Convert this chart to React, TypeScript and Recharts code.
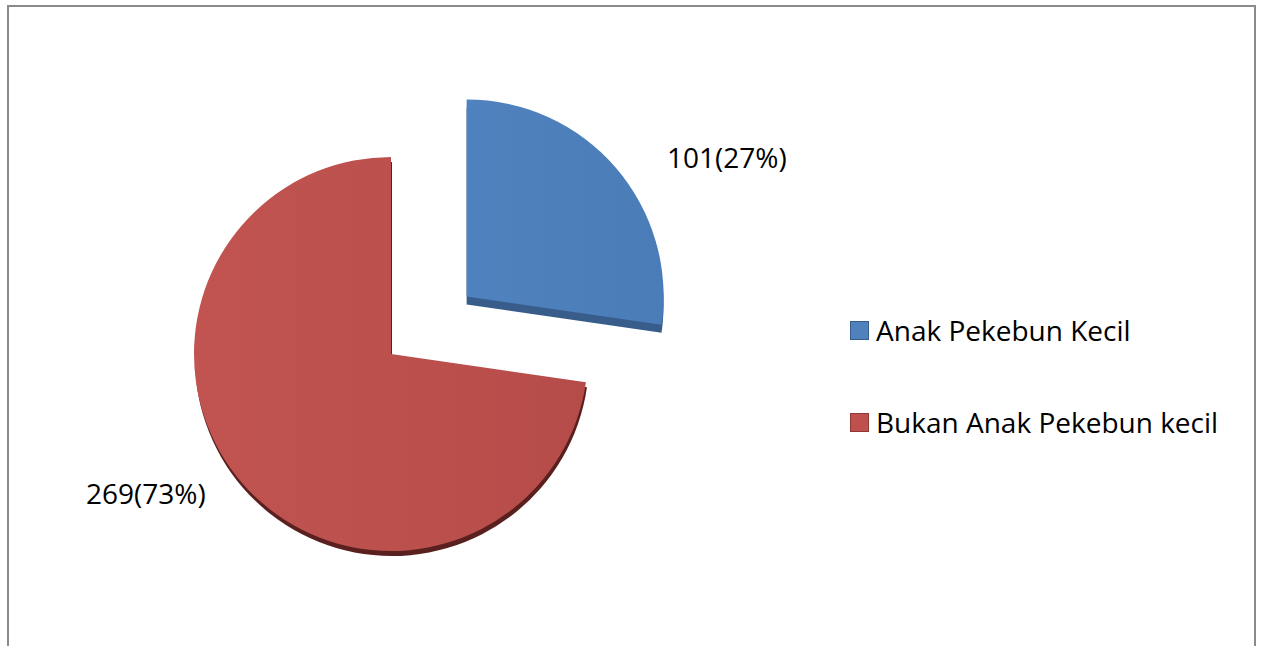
import { Cell, Legend, Pie, PieChart } from "recharts";

const categories = ["Anak Pekebun Kecil", "Bukan Anak Pekebun kecil"];
const counts = [101, 269];
const percents = [27, 73];
const faceColors = ["url(#faceBlue)", "url(#faceRed)"];
const sideColors = ["#385d8a", "#5a201f"];
const legendColors = ["#4f81bd", "#c0504d"];
const legendBorders = ["#385d8a", "#8c3836"];

const data = categories.map((name, i) => ({ name, value: counts[i], pct: percents[i] }));

// pie geometry
const CX = 391;
const CY = 354;
const R = 197;
const EXPLODE = 100;
const TILT = 0.88;
const total = counts.reduce((a, b) => a + b, 0);
const blueMid = ((90 - (180 * counts[0]) / total) * Math.PI) / 180;
const bx = CX + EXPLODE * Math.cos(blueMid);
const by = CY - EXPLODE * TILT * Math.sin(blueMid);

const FONT = "'Open Sans', sans-serif";
const RAD = Math.PI / 180;

const labelFor = (idx: number) => (props: any) => {
  if (props.index !== idx) return null;
  const a = (props.midAngle - 5) * RAD;
  const r = props.outerRadius * 1.208;
  const right = Math.cos(a) >= 0;
  const x = props.cx + r * Math.cos(a) + 7.5;
  const y = props.cy - r * Math.sin(a);
  return (
    <text
      x={x}
      y={y}
      textAnchor={right ? "start" : "end"}
      dominantBaseline="central"
      fill="#000"
      fontSize={28}
      fontFamily={FONT}
    >
      {`${counts[idx]}(${percents[idx]}%)`}
    </text>
  );
};

function PieLegend() {
  return (
    <div style={{ fontFamily: FONT, fontSize: 28, color: "#000" }}>
      {categories.map((c, i) => (
        <div key={c} style={{ display: "flex", alignItems: "center", height: 30, marginBottom: i === 0 ? 62 : 0 }}>
          <span
            style={{
              display: "inline-block",
              width: 17,
              height: 17,
              background: legendColors[i],
              border: `1px solid ${legendBorders[i]}`,
              marginRight: 7,
            }}
          />
          <span>{c}</span>
        </div>
      ))}
    </div>
  );
}

function layer(key: string, cx: number, cy: number, show: number, fills: string[], label?: any) {
  return (
    <Pie
      key={key}
      data={data}
      dataKey="value"
      nameKey="name"
      cx={cx}
      cy={cy}
      outerRadius={R}
      startAngle={90}
      endAngle={-270}
      stroke="none"
      isAnimationActive={false}
      label={label ?? false}
      labelLine={false}
      legendType="none"
    >
      {data.map((d, i) => (
        <Cell key={d.name} fill={i === show ? fills[i] : "transparent"} stroke="none" />
      ))}
    </Pie>
  );
}

export default function App() {
  return (
    <div style={{ position: "absolute", left: 0, top: 0, width: 1261, height: 646, overflow: "hidden", background: "#fff" }}>
      <div
        style={{
          position: "absolute",
          left: 7,
          top: 5,
          width: 1245,
          height: 700,
          border: "2px solid #8a8a8a",
        }}
      />
      <div style={{ position: "absolute", left: 0, top: 0 }}>
        <PieChart width={1261} height={646} margin={{ top: 0, right: 0, bottom: 0, left: 0 }}>
          <defs>
            <linearGradient id="faceBlue" x1="0" y1="0" x2="1" y2="0">
              <stop offset="0%" stopColor="#4f82be" />
              <stop offset="100%" stopColor="#4a7cb8" />
            </linearGradient>
            <linearGradient id="faceRed" x1="0" y1="0" x2="1" y2="0">
              <stop offset="0%" stopColor="#c15451" />
              <stop offset="100%" stopColor="#b64c49" />
            </linearGradient>
          </defs>
          {layer("redSide", CX + 1, CY + 5, 1, sideColors)}
          {layer("redFace", CX, CY, 1, faceColors, labelFor(1))}
          {layer("blueSide", bx, by + 8, 0, sideColors)}
          {layer("blueFace", bx, by, 0, faceColors, labelFor(0))}
          <Legend
            content={<PieLegend />}
            wrapperStyle={{ position: "absolute", left: 850, top: 315, width: 420 }}
          />
        </PieChart>
      </div>
    </div>
  );
}
